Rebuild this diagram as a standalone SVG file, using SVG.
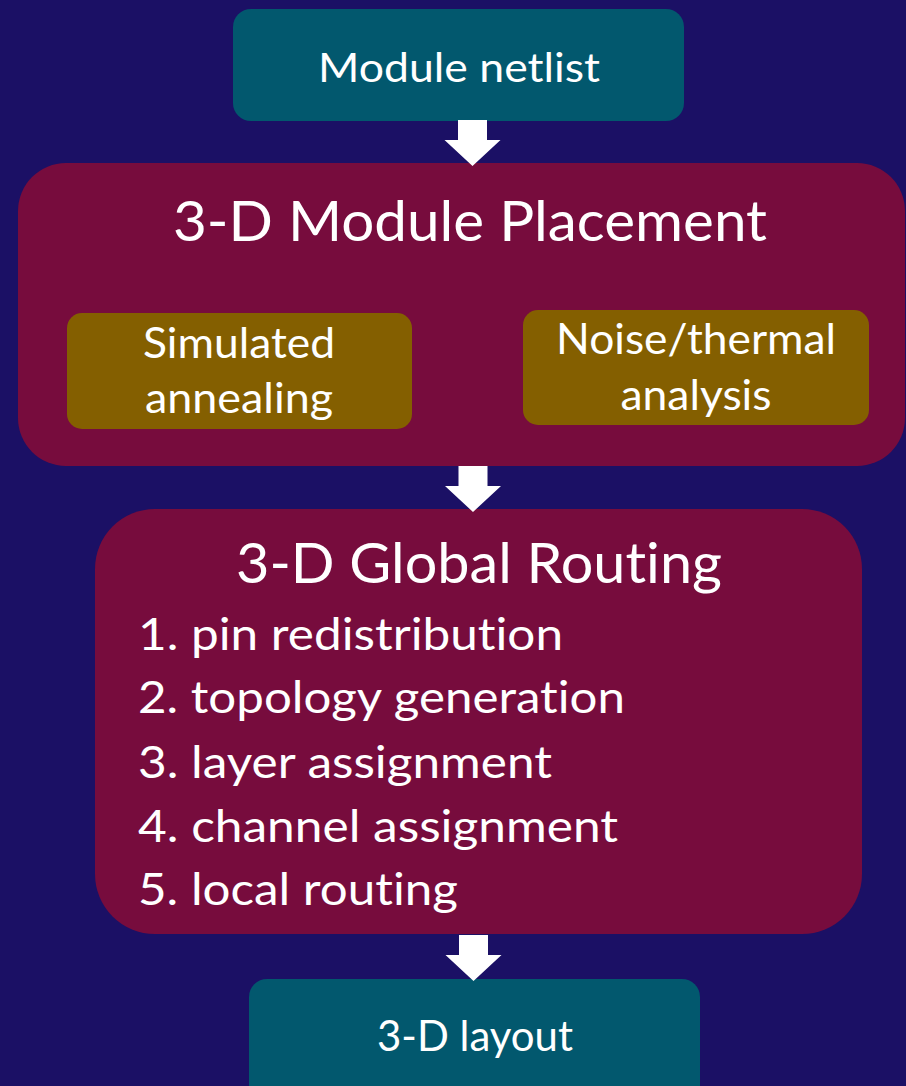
<svg xmlns="http://www.w3.org/2000/svg" width="906" height="1086" viewBox="0 0 906 1086">
<style>
.t{font-family:"Lato","Open Sans","Liberation Sans",sans-serif;fill:#ffffff;font-variant-ligatures:none;font-feature-settings:"liga" 0}
.teal{fill:#02586e}
.maroon{fill:#770c3d}
.olive{fill:#845f00}
.arr{fill:#ffffff}
</style>
<defs>
<path id="arrow" d="M-14.5,0 H14.5 V20 H28 L0,46 L-28,20 H-14.5 Z"/>
</defs>
<rect width="906" height="1086" fill="#1b1065"/>
<g id="netlist">
<rect class="teal" x="233" y="9" width="451" height="112" rx="18"/>
<text class="t" x="459" y="82" font-size="41" text-anchor="middle" textLength="282" lengthAdjust="spacingAndGlyphs">Module netlist</text>
</g>
<g id="placement">
<rect class="maroon" x="18" y="163" width="887" height="303" rx="48"/>
<text class="t" x="470" y="241" font-size="57" text-anchor="middle" textLength="594" lengthAdjust="spacingAndGlyphs">3-D Module Placement</text>
</g>
<g id="annealing">
<rect class="olive" x="67" y="313" width="345" height="116" rx="15"/>
<text class="t" x="239" y="358" font-size="42" text-anchor="middle" textLength="192" lengthAdjust="spacingAndGlyphs">Simulated</text>
<text class="t" x="239" y="413" font-size="42" text-anchor="middle" textLength="188" lengthAdjust="spacingAndGlyphs">annealing</text>
</g>
<g id="noise">
<rect class="olive" x="523" y="310" width="346" height="115" rx="15"/>
<text class="t" x="696" y="354" font-size="42" text-anchor="middle" textLength="280" lengthAdjust="spacingAndGlyphs">Noise/thermal</text>
<text class="t" x="696" y="410" font-size="42" text-anchor="middle" textLength="151" lengthAdjust="spacingAndGlyphs">analysis</text>
</g>
<g id="routing">
<rect class="maroon" x="95" y="509" width="767" height="425" rx="60"/>
<text class="t" x="479" y="583" font-size="57" text-anchor="middle" textLength="486" lengthAdjust="spacingAndGlyphs">3-D Global Routing</text>
<text class="t" x="138" y="650" font-size="44" textLength="425" lengthAdjust="spacingAndGlyphs">1. pin redistribution</text>
<text class="t" x="138" y="713" font-size="44" textLength="487" lengthAdjust="spacingAndGlyphs">2. topology generation</text>
<text class="t" x="138" y="778" font-size="44" textLength="414" lengthAdjust="spacingAndGlyphs">3. layer assignment</text>
<text class="t" x="138" y="842" font-size="44" textLength="480" lengthAdjust="spacingAndGlyphs">4. channel assignment</text>
<text class="t" x="138" y="905" font-size="44" textLength="320" lengthAdjust="spacingAndGlyphs">5. local routing</text>
</g>
<g id="layout">
<rect class="teal" x="249" y="979" width="451" height="130" rx="18"/>
<text class="t" x="475" y="1051" font-size="43" text-anchor="middle" textLength="196" lengthAdjust="spacingAndGlyphs">3-D layout</text>
</g>
<g id="connectors">
<use href="#arrow" class="arr" x="472.5" y="120"/>
<use href="#arrow" class="arr" x="473" y="466"/>
<use href="#arrow" class="arr" x="473.5" y="935"/>
</g>
</svg>
